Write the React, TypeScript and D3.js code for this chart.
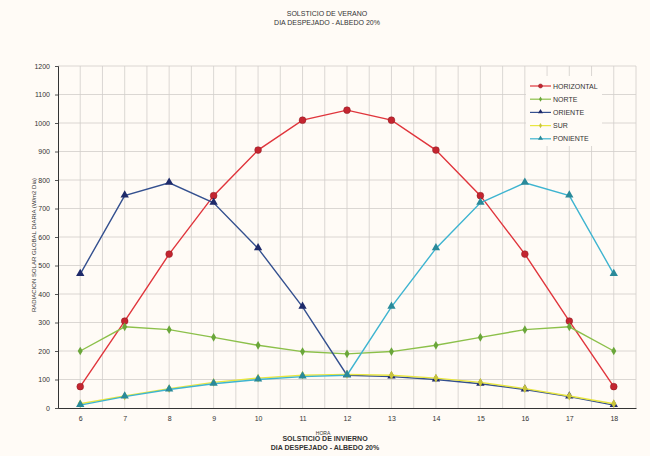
import * as d3 from 'd3';
import React, { useEffect, useRef } from 'react';

const hours = [6, 7, 8, 9, 10, 11, 12, 13, 14, 15, 16, 17, 18];
const horizontal = [75, 305, 540, 745, 905, 1010, 1045, 1010, 905, 745, 540, 305, 75];
const norte = [200, 285, 275, 248, 220, 198, 190, 198, 220, 248, 275, 285, 200];
const oriente = [470, 745, 790, 720, 560, 355, 115, 110, 100, 85, 65, 40, 10];
const sur = [15, 42, 68, 90, 105, 115, 118, 115, 105, 90, 68, 42, 15];
const poniente = [10, 40, 65, 85, 100, 110, 115, 355, 560, 720, 790, 745, 470];
const yTicks = [0, 100, 200, 300, 400, 500, 600, 700, 800, 900, 1000, 1100, 1200];

const series = [
  { name: 'HORIZONTAL', values: horizontal, line: '#e0353c', fill: '#c42530', marker: 'circle' },
  { name: 'NORTE', values: norte, line: '#8cc04a', fill: '#6aa63a', marker: 'diamond' },
  { name: 'ORIENTE', values: oriente, line: '#34508f', fill: '#1e2a6a', marker: 'triangle' },
  { name: 'SUR', values: sur, line: '#e8e640', fill: '#c8c43a', marker: 'diamond' },
  { name: 'PONIENTE', values: poniente, line: '#3eb4d0', fill: '#2a8a9a', marker: 'triangle' },
];

const W = 650, H = 456;
const margin = { top: 66, right: 14, bottom: 48, left: 58 };
const BG = '#fffbf6';
const FONT = 'Liberation Sans, Arial, sans-serif';

export default function App() {
  const ref = useRef<SVGSVGElement>(null);

  useEffect(() => {
    const svg = d3.select(ref.current);
    svg.selectAll('*').remove();

    const x = d3.scaleLinear().domain([5.5, 18.5]).range([margin.left, W - margin.right]);
    const y = d3.scaleLinear().domain([0, 1200]).range([H - margin.bottom, margin.top]);

    svg.append('rect').attr('width', W).attr('height', H).attr('fill', BG);

    // grid
    const grid = svg.append('g');
    grid.selectAll('line.v')
      .data(d3.range(6, 18.51, 0.5))
      .enter().append('line')
      .attr('x1', d => x(d)).attr('x2', d => x(d))
      .attr('y1', y(1200)).attr('y2', y(0))
      .attr('stroke', '#d2ceca').attr('stroke-width', 0.8);
    grid.selectAll('line.h')
      .data(yTicks.slice(1))
      .enter().append('line')
      .attr('x1', x(5.5)).attr('x2', x(18.5))
      .attr('y1', d => y(d)).attr('y2', d => y(d))
      .attr('stroke', '#d2ceca').attr('stroke-width', 0.8);

    // axes
    svg.append('g')
      .attr('transform', 'translate(' + x(5.5) + ',0)')
      .call(d3.axisLeft(y).tickValues(yTicks).tickSize(3).tickPadding(5).tickFormat(d3.format('d')))
      .call(g => g.select('.domain').attr('stroke', '#333'))
      .call(g => g.selectAll('.tick line').attr('stroke', '#555'))
      .call(g => g.selectAll('.tick text').attr('font-size', 7).attr('font-family', FONT).attr('fill', '#333'));

    svg.append('g')
      .attr('transform', 'translate(0,' + y(0) + ')')
      .call(d3.axisBottom(x).tickValues(hours).tickSize(0).tickPadding(8).tickFormat(d3.format('d')))
      .call(g => g.select('.domain').attr('stroke', '#333').attr('stroke-width', 1.2))
      .call(g => g.selectAll('.tick text').attr('font-size', 7).attr('font-family', FONT).attr('fill', '#333'));

    const line = d3.line<number>()
      .x((d, i) => x(hours[i]))
      .y(d => y(d));

    const marker = (g, type, cx, cy, fill, k) => {
      if (type === 'circle') {
        g.append('circle').attr('cx', cx).attr('cy', cy).attr('r', 3.4 * k).attr('fill', fill).attr('stroke', '#8a1a20').attr('stroke-width', 0.5);
      } else if (type === 'diamond') {
        g.append('path').attr('d', d3.symbol().type(d3.symbolDiamond).size(22 * k * k)).attr('transform', 'translate(' + cx + ',' + cy + ')').attr('fill', fill);
      } else {
        g.append('path').attr('d', d3.symbol().type(d3.symbolTriangle).size(30 * k * k)).attr('transform', 'translate(' + cx + ',' + (cy - 0.5) + ')').attr('fill', fill);
      }
    };

    series.forEach(s => {
      const g = svg.append('g');
      g.append('path').datum(s.values).attr('d', line)
        .attr('fill', 'none').attr('stroke', s.line).attr('stroke-width', 1.4);
      s.values.forEach((v, i) => marker(g, s.marker, x(hours[i]), y(v), s.fill, 1));
    });

    // legend
    const lg = svg.append('g');
    lg.append('rect').attr('x', 526).attr('y', 76).attr('width', 76).attr('height', 70).attr('fill', BG);
    series.forEach((s, i) => {
      const ly = 86 + i * 13.2;
      lg.append('line').attr('x1', 530).attr('x2', 551).attr('y1', ly).attr('y2', ly)
        .attr('stroke', s.line).attr('stroke-width', 1.2);
      marker(lg, s.marker, 540.5, ly, s.fill, 0.6);
      lg.append('text').attr('x', 553).attr('y', ly + 2.5).text(s.name)
        .attr('font-size', 7).attr('font-family', FONT).attr('fill', '#333');
    });

    // titles
    const txt = (t, tx, ty, size, weight) => svg.append('text').attr('x', tx).attr('y', ty)
      .attr('text-anchor', 'middle').attr('font-size', size).attr('font-family', FONT)
      .attr('font-weight', weight).attr('fill', '#333').text(t);
    txt('SOLSTICIO DE VERANO', 327, 16, 7, 'normal');
    txt('DIA DESPEJADO - ALBEDO 20%', 327, 25, 7, 'normal');
    txt('HORA', 323, 435, 5, 'normal');
    txt('SOLSTICIO DE INVIERNO', 325, 441, 7, 'bold');
    txt('DIA DESPEJADO - ALBEDO 20%', 325, 450, 7, 'bold');

    svg.append('text')
      .attr('transform', 'translate(36,245) rotate(-90)')
      .attr('text-anchor', 'middle').attr('font-size', 6).attr('font-family', FONT).attr('fill', '#333')
      .text('RADIACION SOLAR GLOBAL DIARIA     (W/m2 Dia)');
  }, []);

  return (
    <svg ref={ref} width={W} height={H} style={{ position: 'absolute', left: 0, top: 0, display: 'block' }} />
  );
}
